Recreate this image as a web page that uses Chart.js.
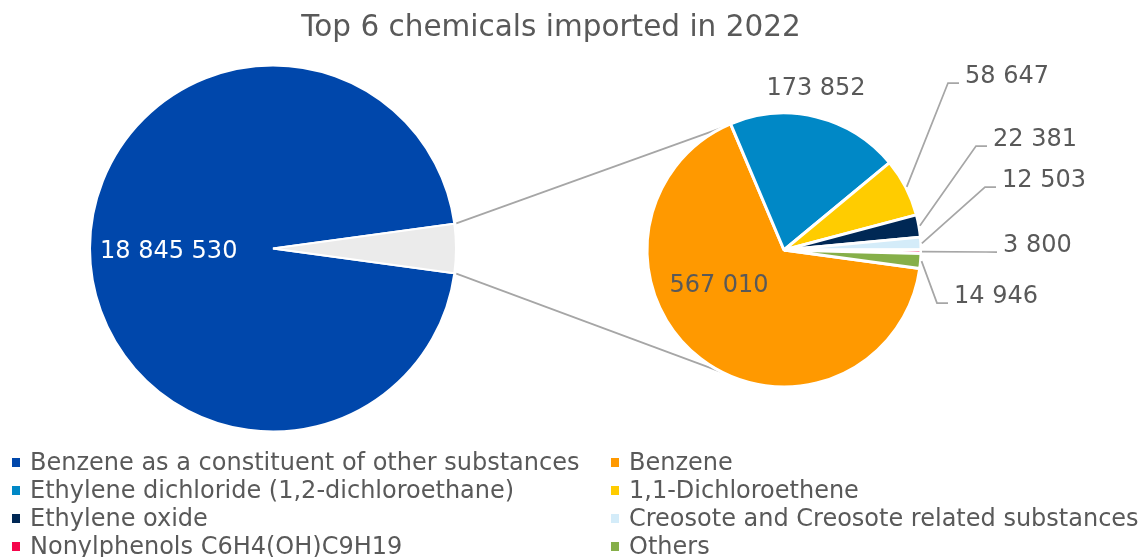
<!DOCTYPE html>
<html>
<head>
<meta charset="utf-8">
<title>Top 6 chemicals imported in 2022</title>
<script src="https://cdn.jsdelivr.net/npm/chart.js@4.4.0/dist/chart.umd.min.js"></script>
<style>
  body { margin: 0; background: #fff; font-family: 'DejaVu Sans', Verdana, sans-serif; color: #595959; }
  #wrap { position: relative; width: 1140px; height: 557px; overflow: hidden; }
  #wrap canvas { position: absolute; left: 0; top: 0; }
  #title { position: absolute; top: 11px; left: 0; width: 1102px; text-align: center; font-size: 29.5px; line-height: 30px; }
  #legend { position: absolute; left: 12px; top: 448px; display: grid; grid-template-columns: 599px auto; }
  .item { position: relative; padding-left: 18px; font-size: 24px; line-height: 28px; white-space: nowrap; }
  .box { position: absolute; left: 0; top: 10px; width: 8px; height: 9px; }
</style>
</head>
<body>
<div id="wrap">
  <canvas id="mainPie" width="1140" height="557"></canvas>
  <canvas id="subPie" width="1140" height="557"></canvas>
  <div id="title">Top 6 chemicals imported in 2022</div>
  <div id="legend"></div>
</div>
<script>
'use strict';

// big pie
const mainLabel = 'Benzene as a constituent of other substances';
const mainValue = 18845530;
const mainColors = ['#0047AB', '#EBEBEB'];

// small pie (the rest)
const subLabels = ['Benzene', 'Ethylene dichloride (1,2-dichloroethane)', '1,1-Dichloroethene', 'Ethylene oxide',
  'Creosote and Creosote related substances', 'Nonylphenols C6H4(OH)C9H19', 'Others'];
const subValues = [567010, 173852, 58647, 22381, 12503, 3800, 14946];
const subColors = ['#FF9900', '#0088C6', '#FFCC00', '#002855', '#D4ECF9', '#F5064B', '#86AF49'];

// where the value labels of the small pie go (px from its centre)
// plain: text centre, leader: bend of the leader line
const subLabelPos = [
  {dx: -65, dy: 33},
  {dx: 32, dy: -164},
  {dx: 164, dy: -167, leader: true},
  {dx: 192, dy: -104, leader: true},
  {dx: 201, dy: -63, leader: true},
  {dx: 202, dy: 2, leader: true},
  {dx: 153, dy: 53, leader: true}
];

function fmt(v) {
  return String(v).replace(/\B(?=(\d{3})+(?!\d))/g, ' ');
}

let otherTotal = subValues.reduce(function(a, b) { return a + b; }, 0);
// grey slice centred on 3 o'clock, same turn for the small pie
let rotation = 90 + otherTotal / (mainValue + otherTotal) * 180;

// ***** legend *****
let legend = document.getElementById('legend');
[mainLabel].concat(subLabels).forEach(function(lab, i) {
  let col = i == 0 ? mainColors[0] : subColors[i - 1];
  let el = document.createElement('div');
  el.className = 'item';
  el.innerHTML = '<span class="box" style="background:' + col + '"></span>' + lab;
  legend.appendChild(el);
});

// ***** labels *****
const mainLabelPlugin = {
  id: 'mainLabel',
  afterDatasetsDraw(chart) {
    let arc = chart.getDatasetMeta(0).data[0];
    let mid = (arc.startAngle + arc.endAngle) / 2;
    let ctx = chart.ctx;
    ctx.save();
    ctx.font = '24px "DejaVu Sans"';
    ctx.fillStyle = '#ffffff';
    ctx.textAlign = 'center';
    ctx.textBaseline = 'alphabetic';
    ctx.fillText(fmt(mainValue), arc.x + Math.cos(mid) * arc.outerRadius * 0.57,
      arc.y + Math.sin(mid) * arc.outerRadius * 0.57 + 9);
    ctx.restore();
  }
};

const subLabelPlugin = {
  id: 'subLabels',
  afterDatasetsDraw(chart) {
    let ctx = chart.ctx;
    ctx.save();
    ctx.font = '24px "DejaVu Sans"';
    ctx.fillStyle = '#595959';
    ctx.strokeStyle = '#A6A6A6';
    ctx.lineWidth = 1.75;
    ctx.textBaseline = 'alphabetic';
    chart.getDatasetMeta(0).data.forEach(function(arc, i) {
      let p = subLabelPos[i];
      let txt = fmt(subValues[i]);
      if (p.leader) {
        let mid = (arc.startAngle + arc.endAngle) / 2;
        let r = arc.outerRadius + 1;
        let bx = arc.x + p.dx, by = arc.y + p.dy;
        ctx.beginPath();
        ctx.moveTo(arc.x + Math.cos(mid) * r, arc.y + Math.sin(mid) * r);
        ctx.lineTo(bx, by);
        ctx.lineTo(bx + 11, by);
        ctx.stroke();
        ctx.textAlign = 'left';
        ctx.fillText(txt, bx + 17, by);
      } else {
        ctx.textAlign = 'center';
        ctx.fillText(txt, arc.x + p.dx, arc.y + p.dy + 9);
      }
    });
    ctx.restore();
  }
};

// ***** big pie *****
let mainChart = new Chart(document.getElementById('mainPie').getContext('2d'), {
  type: 'pie',
  data: {
    labels: [mainLabel, 'Other'],
    datasets: [{
      data: [mainValue, otherTotal],
      backgroundColor: mainColors,
      borderColor: '#ffffff',
      borderWidth: 2
    }]
  },
  options: {
    responsive: false,
    animation: false,
    events: [],
    radius: 183,
    rotation: rotation,
    layout: { padding: { left: 0, top: 0, right: 594, bottom: 60 } },
    plugins: { legend: { display: false }, tooltip: { enabled: false } }
  },
  plugins: [mainLabelPlugin]
});

// lines from the grey slice to the small pie
const connectorPlugin = {
  id: 'connector',
  beforeDatasetsDraw(chart) {
    let other = mainChart.getDatasetMeta(0).data[1];
    let first = chart.getDatasetMeta(0).data[0];
    let spread = 63 * Math.PI / 180;
    let ctx = chart.ctx;
    ctx.save();
    ctx.strokeStyle = '#A6A6A6';
    ctx.lineWidth = 1.75;
    [[other.startAngle, Math.PI + spread], [other.endAngle, Math.PI - spread]].forEach(function(pr) {
      ctx.beginPath();
      ctx.moveTo(other.x + Math.cos(pr[0]) * (other.outerRadius + 2), other.y + Math.sin(pr[0]) * (other.outerRadius + 2));
      ctx.lineTo(first.x + Math.cos(pr[1]) * first.outerRadius, first.y + Math.sin(pr[1]) * first.outerRadius);
      ctx.stroke();
    });
    ctx.restore();
  }
};

// ***** small pie *****
new Chart(document.getElementById('subPie').getContext('2d'), {
  type: 'pie',
  data: {
    labels: subLabels,
    datasets: [{
      data: subValues,
      backgroundColor: subColors,
      borderColor: '#ffffff',
      borderWidth: 3
    }]
  },
  options: {
    responsive: false,
    animation: false,
    events: [],
    radius: 137,
    rotation: rotation,
    layout: { padding: { left: 584, top: 50, right: 156, bottom: 107 } },
    plugins: { legend: { display: false }, tooltip: { enabled: false } }
  },
  plugins: [connectorPlugin, subLabelPlugin]
});
</script>
</body>
</html>
